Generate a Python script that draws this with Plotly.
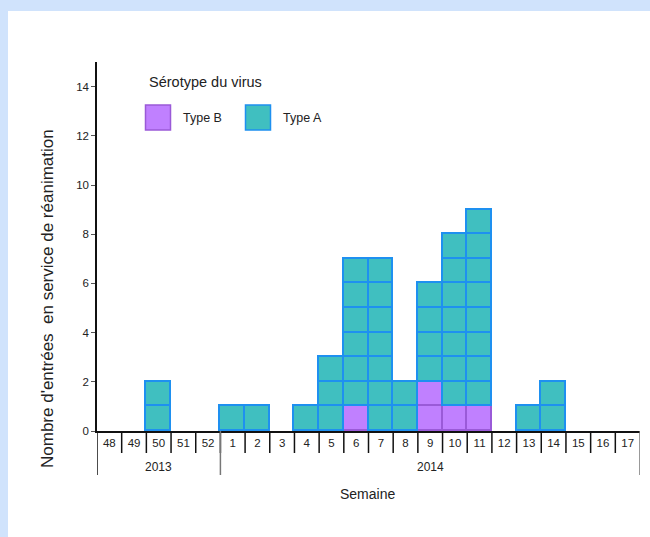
import plotly.graph_objects as go

weeks = ["48", "49", "50", "51", "52", "1", "2", "3", "4", "5", "6", "7", "8",
         "9", "10", "11", "12", "13", "14", "15", "16", "17"]
type_b = [0, 0, 0, 0, 0, 0, 0, 0, 0, 0, 1, 0, 0, 2, 1, 1, 0, 0, 0, 0, 0, 0]
type_a = [0, 0, 2, 0, 0, 1, 1, 0, 1, 3, 6, 7, 2, 4, 7, 8, 0, 1, 2, 0, 0, 0]
years = ["2013", "2014"]
year_spans = [(0, 4), (5, 21)]

COL_B, EDGE_B = "#c080ff", "#9a5ad8"
COL_A, EDGE_A = "#40bfc0", "#1e90f0"
TXT = "#222222"
PAGE_BG = "#d0e3fc"

# figure placed at page offset (8, 11)
OX, OY = 8, 11
W, H = 650 - OX, 537 - OY
# plot area in page pixels: x 97..640, y 62..431
L, R, T, B = 97 - OX, 650 - 640, 62 - OY, 537 - 431
PW = W - L - R
PH = H - T - B

def px(xp):  # page pixel -> paper x
    return (xp - 97) / PW

def py(yp):  # page pixel -> paper y
    return (431 - yp) / PH

fig = go.Figure()

def add_units(counts, fill, edge):
    for k in range(1, max(counts) + 1):
        fig.add_trace(go.Bar(
            x=weeks, y=[1 if c >= k else None for c in counts],
            marker=dict(color=fill, line=dict(color=edge, width=1.8)),
            showlegend=False, hoverinfo="skip"))

add_units(type_b, COL_B, EDGE_B)
add_units(type_a, COL_A, EDGE_A)

shapes = []
# week separators
for i in range(1, len(weeks)):
    shapes.append(dict(type="line", xref="x", yref="paper",
                       x0=i - 0.5, x1=i - 0.5, y0=0, y1=py(453),
                       line=dict(color="#111111", width=1.5)))
# year separators
bounds = [year_spans[0][0] - 0.5] + [s[1] + 0.5 for s in year_spans]
for j, b in enumerate(bounds):
    shapes.append(dict(type="line", xref="x", yref="paper",
                       x0=b, x1=b, y0=0, y1=py(475),
                       line=dict(color="#111111" if j == 0 else "#777777", width=1.5)))
# legend squares
shapes.append(dict(type="rect", xref="paper", yref="paper",
                   x0=px(145.5), x1=px(170.5), y0=py(105), y1=py(130),
                   fillcolor=COL_B, line=dict(color=EDGE_B, width=1.5)))
shapes.append(dict(type="rect", xref="paper", yref="paper",
                   x0=px(245.5), x1=px(270.5), y0=py(105), y1=py(130),
                   fillcolor=COL_A, line=dict(color=EDGE_A, width=1.5)))

annotations = []
for yr, (a, b) in zip(years, year_spans):
    annotations.append(dict(text=yr, x=(a + b) / 2, xref="x", y=py(467), yref="paper",
                            showarrow=False, font=dict(size=12, color=TXT),
                            xanchor="center", yanchor="middle"))
annotations.append(dict(text="Semaine", x=px(367), y=py(494), xref="paper", yref="paper",
                        showarrow=False, font=dict(size=14, color=TXT),
                        xanchor="center", yanchor="middle"))
annotations.append(dict(text="Nombre d'entrées  en service de réanimation",
                        x=px(47), y=py(299), xref="paper", yref="paper", textangle=-90,
                        showarrow=False, font=dict(size=17, color=TXT),
                        xanchor="center", yanchor="middle"))
annotations.append(dict(text="Sérotype du virus", x=px(147), y=py(82), xref="paper", yref="paper",
                        showarrow=False, font=dict(size=14.5, color=TXT),
                        xanchor="left", yanchor="middle"))
annotations.append(dict(text="Type B", x=px(181), y=py(118), xref="paper", yref="paper",
                        showarrow=False, font=dict(size=12.5, color=TXT),
                        xanchor="left", yanchor="middle"))
annotations.append(dict(text="Type A", x=px(281), y=py(118), xref="paper", yref="paper",
                        showarrow=False, font=dict(size=12.5, color=TXT),
                        xanchor="left", yanchor="middle"))

fig.update_layout(
    width=W, height=H,
    margin=dict(l=L, r=R, t=T, b=B, autoexpand=False),
    paper_bgcolor="white", plot_bgcolor="white",
    barmode="stack", bargap=0,
    font=dict(family="Liberation Sans, Arial, sans-serif", color=TXT),
    showlegend=False,
    shapes=shapes, annotations=annotations,
    xaxis=dict(type="category", categoryorder="array", categoryarray=weeks,
               range=[-0.5, len(weeks) - 0.5], showline=True, linecolor="#111111",
               linewidth=1.5, ticks="", showgrid=False, zeroline=False,
               tickfont=dict(size=11.5, color=TXT), fixedrange=True),
    yaxis=dict(range=[0, 15], tickvals=list(range(0, 15, 2)), showline=True,
               linecolor="#111111", linewidth=1.5, ticks="outside", ticklen=4,
               tickcolor="#555555", showgrid=False, zeroline=False,
               tickfont=dict(size=11.5, color=TXT), fixedrange=True),
)

post = (
    "document.body.style.margin='0';"
    "document.body.style.overflow='hidden';"
    "document.body.style.backgroundColor='%s';"
    "var gd=document.getElementById('{plot_id}');"
    "gd.style.marginLeft='%dpx';gd.style.marginTop='%dpx';"
) % (PAGE_BG, OX, OY)

fig.write_html("out.html", post_script=post, config={"displayModeBar": False})
